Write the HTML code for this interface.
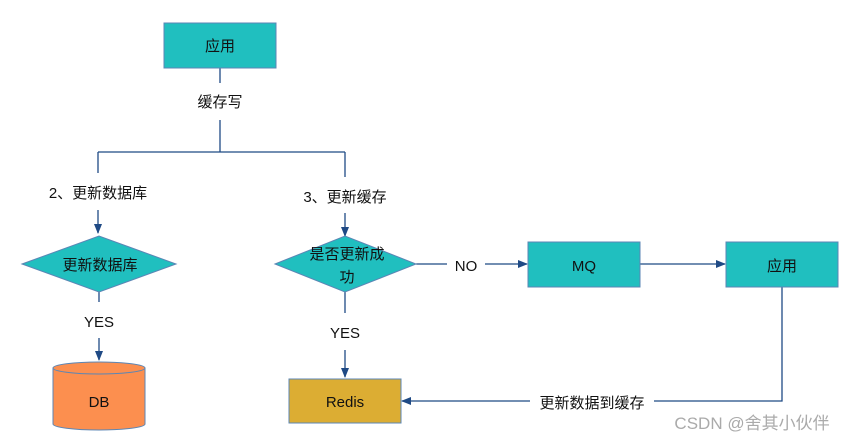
<!DOCTYPE html>
<html><head><meta charset="utf-8"><style>
html,body{margin:0;padding:0;background:#fff;width:851px;height:442px;overflow:hidden}
text{font-family:"Liberation Sans","Noto Sans CJK SC",sans-serif;font-size:15px;fill:#111}
</style></head><body>
<svg width="851" height="442" viewBox="0 0 851 442" xmlns="http://www.w3.org/2000/svg">
<defs><marker id="a" markerWidth="10" markerHeight="10" refX="9" refY="5" orient="auto" markerUnits="userSpaceOnUse"><path d="M0,1 L10,5 L0,9 Z" fill="#1f4a85"/></marker></defs>
<g stroke="#1f4a85" stroke-width="1.3" fill="none">
<path d="M220,68V83M220,120V152M98,152H345M98,152V173M345,152V177"/>
<path d="M98,210V233" marker-end="url(#a)"/>
<path d="M345,213V236" marker-end="url(#a)"/>
<path d="M99,292V302M345,292V313"/>
<path d="M99,338V360" marker-end="url(#a)"/>
<path d="M345,350V377" marker-end="url(#a)"/>
<path d="M416,264H447"/>
<path d="M485,264H527" marker-end="url(#a)"/>
<path d="M640,264H725" marker-end="url(#a)"/>
<path d="M782,287V401H654"/>
<path d="M530,401H402" marker-end="url(#a)"/>
</g>
<g stroke="#5b86b5" stroke-width="1">
<rect x="164" y="23" width="112" height="45" fill="#20bfbf"/>
<rect x="528" y="242" width="112" height="45" fill="#20bfbf"/>
<rect x="726" y="242" width="112" height="45" fill="#20bfbf"/>
<rect x="289" y="379" width="112" height="44" fill="#dcad33"/>
<polygon points="22,264 99,236 176,264 99,292" fill="#20bfbf"/>
<polygon points="275,264 345,236 416,264 345,292" fill="#20bfbf"/>
<path d="M53,368 V424 A46,6 0 0 0 145,424 V368" fill="#fc8f4f"/>
<ellipse cx="99" cy="368" rx="46" ry="6" fill="#fc8f4f"/>
</g>
<g text-anchor="middle">
<text x="220" y="51">应用</text>
<text x="220" y="107">缓存写</text>
<text x="98" y="198">2、更新数据库</text>
<text x="345" y="202">3、更新缓存</text>
<text x="100" y="270">更新数据库</text>
<text x="347" y="259">是否更新成</text>
<text x="347" y="282">功</text>
<text x="99" y="327">YES</text>
<text x="345" y="338">YES</text>
<text x="99" y="407">DB</text>
<text x="345" y="407">Redis</text>
<text x="466" y="271">NO</text>
<text x="584" y="271">MQ</text>
<text x="782" y="271">应用</text>
<text x="592" y="408">更新数据到缓存</text>
<text x="752" y="429" style="fill:#aaa;font-size:17px">CSDN @舍其小伙伴</text>
</g>
</svg>
</body></html>
